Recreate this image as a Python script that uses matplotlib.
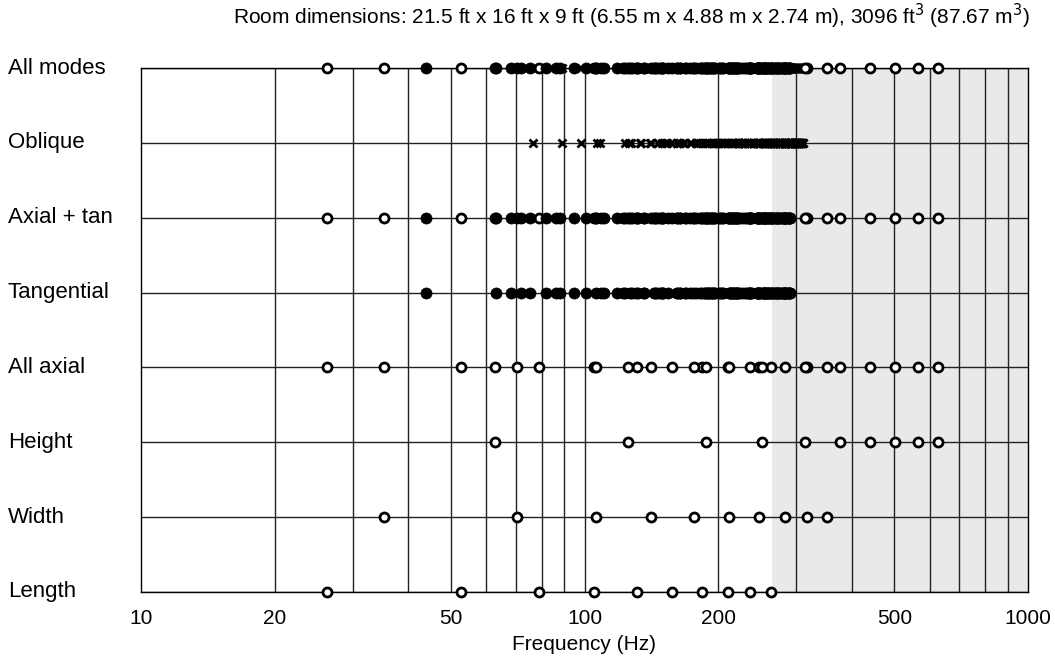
import matplotlib
matplotlib.use("Agg")
import matplotlib.pyplot as plt
import matplotlib.transforms as mtransforms

plt.rcParams['font.family'] = ['Liberation Sans', 'DejaVu Sans']

# axial modes (Hz)
length_modes = [26.3, 52.6, 78.8, 105.1, 131.4, 157.7, 184.0, 210.2, 236.5, 262.8]
width_modes = [35.3, 70.6, 105.9, 141.3, 176.6, 211.9, 247.2, 282.5, 317.8, 353.1]
height_modes = [62.8, 125.6, 188.3, 251.1, 313.9, 376.7, 439.4, 502.2, 565.0, 627.8]

tangential_modes = [
    44.0, 63.3, 86.4, 110.9, 136.1, 161.6, 187.3, 213.2, 239.1, 265.2, 291.2,
    75.4, 88.0, 105.9, 126.6, 149.2, 172.8, 197.0, 221.8, 246.8, 272.1,
    109.2, 118.3, 132.1, 149.2, 168.8, 190.0, 212.3, 235.4, 259.2, 283.3,
    143.7, 150.7, 161.8, 176.1, 192.9, 211.7, 231.9, 253.3, 275.5,
    178.5, 184.2, 193.4, 205.5, 220.1, 236.7, 255.0, 274.5,
    213.5, 218.3, 226.1, 236.5, 249.3, 264.1, 280.6,
    248.6, 252.7, 259.5, 268.6, 279.9,
    283.7, 287.4,
    68.1, 81.9, 100.8, 122.4, 145.6, 169.7, 194.4, 219.4, 244.7, 270.2,
    128.3, 136.1, 148.3, 163.8, 181.7, 201.6, 222.7, 244.9, 267.8, 291.2,
    190.2, 195.5, 204.2, 215.7, 229.6, 245.6, 263.3, 282.3,
    252.5, 256.6, 263.2, 272.2, 283.4,
    72.0, 94.5, 123.1, 154.6, 187.4, 221.0, 255.0, 289.4,
    130.4, 144.1, 164.3, 189.0, 216.7, 246.3, 277.3,
    191.6, 201.1, 216.1, 235.4, 258.2, 283.5,
    253.6, 260.9, 272.5, 288.1,
]

oblique_modes = [
    76.7, 89.2, 106.8, 127.4, 149.8, 173.4, 197.6, 222.2, 247.2, 272.5, 297.9,
    98.1, 108.1, 123.1, 141.3, 161.9, 183.8, 206.8, 230.5, 254.7, 279.3, 304.1,
    125.9, 133.9, 146.2, 161.9, 180.1, 200.1, 221.4, 243.6, 266.7, 290.2,
    156.8, 163.3, 173.5, 186.9, 202.9, 220.8, 240.3, 260.9, 282.5, 304.9,
    189.2, 194.6, 203.3, 214.9, 228.9, 244.9, 262.6, 281.6, 301.8,
    222.5, 227.1, 234.6, 244.7, 257.1, 271.5, 287.5, 305.0,
    256.4, 260.4, 266.9, 275.9, 286.9, 299.8,
    290.6, 294.1, 299.9, 307.9,
    133.1, 140.6, 152.4, 167.5, 185.1, 204.6, 225.5, 247.4, 270.1, 293.4,
    146.4, 153.4, 164.2, 178.3, 195.0, 213.6, 233.7, 254.9, 276.9, 299.7,
    166.4, 172.5, 182.2, 195.0, 210.4, 227.7, 246.6, 266.8, 288.0, 309.9,
    190.8, 196.2, 204.8, 216.3, 230.2, 246.1, 263.7, 282.7, 302.7,
    218.2, 222.9, 230.6, 240.8, 253.4, 268.0, 284.2, 301.9,
    247.7, 251.8, 258.6, 267.8, 279.1, 292.4, 307.4,
    278.5, 282.2, 288.2, 296.5, 306.8,
    310.3,
    193.4, 198.7, 207.2, 218.6, 232.3, 248.2, 265.6, 284.5, 304.4,
    202.9, 207.9, 216.0, 227.0, 240.3, 255.6, 272.6, 291.0, 310.5,
    217.7, 222.4, 230.0, 240.3, 252.9, 267.5, 283.8, 301.5,
    236.9, 241.2, 248.3, 257.8, 269.6, 283.3, 298.8,
    259.5, 263.5, 269.9, 278.7, 289.7, 302.5,
    284.7, 288.3, 294.2, 302.3,
    254.9, 259.0, 265.6, 274.5, 285.6, 298.6,
    262.2, 266.1, 272.5, 281.2, 292.1, 304.8,
    273.8, 277.6, 283.7, 292.1, 302.6,
    289.3, 292.9, 298.7, 306.7,
    308.1,
]

row_labels = ["Length", "Width", "Height", "All axial", "Tangential",
              "Axial + tan", "Oblique", "All modes"]
x_ticks = [10, 20, 50, 100, 200, 500, 1000]
grid_freqs = [20, 30, 40, 50, 60, 70, 80, 90, 100, 200, 300, 400, 500, 600, 700, 800, 900]
shade_start = 265
title = ("Room dimensions: 21.5 ft x 16 ft x 9 ft (6.55 m x 4.88 m x 2.74 m), "
         "3096 ft$^3$ (87.67 m$^3$)")

all_axial = length_modes + width_modes + height_modes

fig = plt.figure(figsize=(10.55, 6.58), dpi=100)
ax = fig.add_axes([141 / 1055, 1 - 592 / 658, (1028 - 141) / 1055, (592 - 68) / 658])
ax.set_xscale('log')
ax.set_xlim(10, 1000)
ax.set_ylim(0, 7)

ax.axvspan(shade_start, 1000, color='#e8e9eb', zorder=0, lw=0)
for f in grid_freqs:
    ax.axvline(f, color='#222222', lw=1.0, zorder=1)
for i in range(len(row_labels)):
    ax.axhline(i, color='#222222', lw=1.0, zorder=1)

open_kw = dict(ls='none', marker='o', ms=6.5, mfc='white', mec='black', mew=2.0,
               clip_on=False, zorder=3)
fill_kw = dict(ls='none', marker='o', ms=8, mfc='black', mec='black', mew=0.5,
               clip_on=False, zorder=4)
x_kw = dict(ls='none', marker='x', ms=6, mec='black', mew=2.0,
            clip_on=False, zorder=2.5)


def row(values, y, kw):
    ax.plot(values, [y] * len(values), **kw)


row(length_modes, 0, open_kw)
row(width_modes, 1, open_kw)
row(height_modes, 2, open_kw)
row(all_axial, 3, open_kw)
row(tangential_modes, 4, fill_kw)
row(all_axial, 5, open_kw)
row(tangential_modes, 5, fill_kw)
row(oblique_modes, 6, x_kw)
row(oblique_modes, 7, x_kw)
row(all_axial, 7, open_kw)
row(tangential_modes, 7, fill_kw)

ax.set_xticks(x_ticks)
ax.set_xticklabels([str(t) for t in x_ticks], fontsize=15)
ax.minorticks_off()
ax.tick_params(axis='x', length=0, pad=12)
ax.set_yticks([])
ax.set_xlabel("Frequency (Hz)", fontsize=15, labelpad=5)
for s in ax.spines.values():
    s.set_color('black')
    s.set_linewidth(1.0)

trans = mtransforms.blended_transform_factory(fig.transFigure, ax.transData)
for i, lab in enumerate(row_labels):
    ax.text(8 / 1055, i, lab, transform=trans, ha='left', va='center', fontsize=16)

fig.text(632 / 1055, 1 - 16 / 658, title, ha='center', va='center', fontsize=15)

fig.savefig("out.png", dpi=100)
